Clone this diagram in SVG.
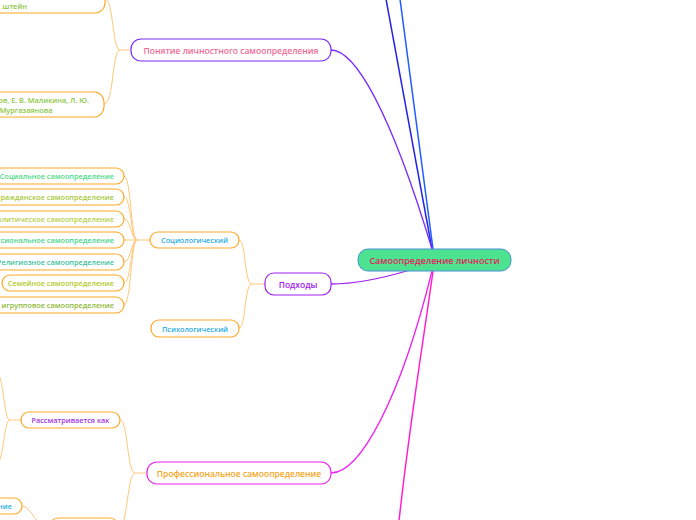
<svg xmlns="http://www.w3.org/2000/svg" width="696" height="520" viewBox="0 0 696 520">
<style>
text{font-family:"Open Sans","Liberation Sans",sans-serif;font-weight:600;text-anchor:middle;dominant-baseline:central}
.o{fill:#fff;stroke:#ffa726;stroke-width:1.2}
.oc{fill:none;stroke:#ffc77a;stroke-width:1}
.s{font-size:7.3px}
.m{font-size:8.5px}
</style>
<rect width="696" height="520" fill="#fff"/>
<g id="connectors">
<path d="M432,249 L386,-1" stroke="#2323e6" stroke-width="1.5" fill="none"/>
<path d="M433,249 L400,-1" stroke="#1f5cff" stroke-width="1.5" fill="none"/>
<path d="M331,50 C355,50 390,110 432,249" stroke="#7a2cff" stroke-width="1.3" fill="none"/>
<path d="M331,284 C360,284 390,276 410,270" stroke="#a020f0" stroke-width="1.3" fill="none"/>
<path d="M331,473 C360,473 400,400 432,271" stroke="#ee22ee" stroke-width="1.3" fill="none"/>
<path d="M433,271 C425,330 410,420 399,521" stroke="#ff1fd0" stroke-width="1.5" fill="none"/>
<path class="oc" d="M131,50 L120,50 C112,50 114,-2 104,-2"/>
<path class="oc" d="M120,50 C112,50 114,104 104,104"/>
<path class="oc" d="M265,284 L252,284 C244,284 246,240 239,240"/>
<path class="oc" d="M252,284 C244,284 246,328 239,328"/>
<path class="oc" d="M150,240 L137,240 C131,240 131,176 124,176"/>
<path class="oc" d="M137,240 C131,240 131,197 124,197"/>
<path class="oc" d="M137,240 C131,240 131,219 124,219"/>
<path class="oc" d="M137,240 L124,240"/>
<path class="oc" d="M137,240 C131,240 131,262 124,262"/>
<path class="oc" d="M137,240 C131,240 131,283 124,283"/>
<path class="oc" d="M137,240 C131,240 131,305 124,305"/>
<path class="oc" d="M147,473 L135,473 C127,473 128,420 120,420"/>
<path class="oc" d="M135,473 C127,473 128,529 118,529"/>
<path class="oc" d="M21,420 L10,420 C4,420 4,380 -2,374"/>
<path class="oc" d="M10,420 C4,420 4,456 -2,463"/>
<path class="oc" d="M50,529 C36,529 32,506 22,506"/>
</g>
<g id="n-center">
<rect x="358" y="249" width="153" height="22" rx="10" fill="#4de28f" stroke="#4a90d9" stroke-width="1"/>
<text x="434.5" y="260" style="font-size:9px" fill="#e0245e">Самоопределение личности</text>
</g>
<g id="n-ponyatie">
<rect x="131" y="39" width="200" height="22" rx="10" fill="#fff" stroke="#7a2cff" stroke-width="1.2"/>
<text x="231" y="50" class="m" fill="#ef6b96">Понятие личностного самоопределения</text>
</g>
<g id="n-top">
<rect class="o" x="-100" y="-16" width="205" height="29" rx="10"/>
<text x="27" y="6" class="s" fill="#8cc63f" style="text-anchor:end">штейн</text>
</g>
<g id="n-authors">
<rect class="o" x="-90" y="92" width="194" height="25" rx="10"/>
<text x="89" y="100" class="s" fill="#8cc63f" style="text-anchor:end">ов, Е. В. Маликина, Л. Ю.</text>
<text x="26" y="110" class="s" fill="#8cc63f">Мургазаянова</text>
</g>
<g id="n-podhody">
<rect x="265" y="273" width="66" height="22" rx="9" fill="#fff" stroke="#a020f0" stroke-width="1.2"/>
<text x="298" y="284" class="m" fill="#a020f0">Подходы</text>
</g>
<g id="n-socio">
<rect class="o" x="150" y="232" width="89" height="16" rx="8"/>
<text x="194.5" y="240" class="s" fill="#29abe2">Социологический</text>
</g>
<g id="n-psycho">
<rect class="o" x="151" y="320" width="88" height="17" rx="8"/>
<text x="195" y="328.5" class="s" fill="#29abe2">Психологический</text>
</g>
<g id="n-soc1">
<rect class="o" x="-6" y="168" width="130" height="16" rx="8"/>
<text x="114" y="176" class="s" fill="#4cd98a" style="text-anchor:end">Социальное самоопределение</text>
</g>
<g id="n-soc2">
<rect class="o" x="-10" y="189" width="134" height="16" rx="8"/>
<text x="114" y="197" class="s" fill="#a8c93a" style="text-anchor:end">Гражданское самоопределение</text>
</g>
<g id="n-soc3">
<rect class="o" x="-10" y="211" width="134" height="16" rx="8"/>
<text x="114" y="219" class="s" fill="#b5d04a" style="text-anchor:end">олитическое самоопределение</text>
</g>
<g id="n-soc4">
<rect class="o" x="-10" y="232" width="134" height="16" rx="8"/>
<text x="114" y="240" class="s" fill="#45d48c" style="text-anchor:end">ссиональное самоопределение</text>
</g>
<g id="n-soc5">
<rect class="o" x="-10" y="254" width="134" height="16" rx="8"/>
<text x="114" y="262" class="s" fill="#3cbf9c" style="text-anchor:end">Религиозное самоопределение</text>
</g>
<g id="n-soc6">
<rect class="o" x="2" y="275" width="122" height="16" rx="8"/>
<text x="114" y="283" class="s" fill="#b5c92a" style="text-anchor:end">Семейное самоопределение</text>
</g>
<g id="n-soc7">
<rect class="o" x="-10" y="297" width="134" height="16" rx="8"/>
<text x="114" y="305" class="s" fill="#8fb83a" style="text-anchor:end">игрупповое самоопределение</text>
</g>
<g id="n-prof">
<rect x="147" y="462" width="184" height="22" rx="10" fill="#fff" stroke="#ee22ee" stroke-width="1.2"/>
<text x="239" y="473" class="m" fill="#f5a623">Профессиональное самоопределение</text>
</g>
<g id="n-rassm">
<rect class="o" x="21" y="412" width="99" height="16" rx="8"/>
<text x="70.5" y="420" class="s" fill="#a033e0">Рассматривается как</text>
</g>
<g id="n-nie">
<rect class="o" x="-30" y="498" width="52" height="16" rx="8"/>
<text x="12" y="506" class="s" fill="#29abe2" style="text-anchor:end">ние</text>
</g>
<g id="n-bottom">
<rect class="o" x="50" y="518" width="68" height="22" rx="8"/>
</g>
</svg>
